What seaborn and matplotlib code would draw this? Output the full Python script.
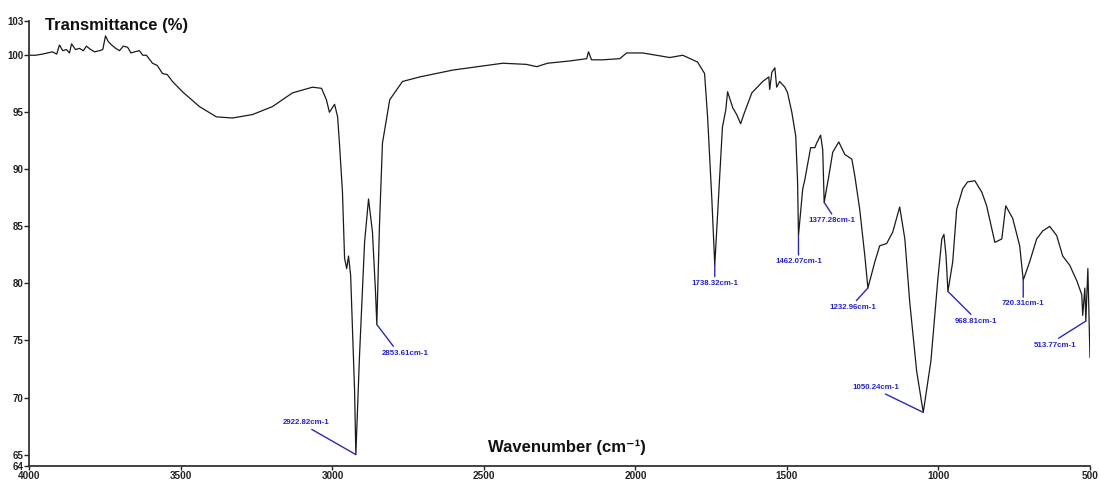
import matplotlib
matplotlib.use("Agg")
import matplotlib.pyplot as plt
import seaborn as sns
import pandas as pd

# ---- spectrum ----
wavenumber = [4000, 3980, 3957, 3940, 3924, 3910, 3901, 3890, 3878, 3868, 3861, 3848, 3835, 3822,
              3812, 3798, 3785, 3769, 3758, 3749, 3740, 3729, 3715, 3703, 3690, 3676, 3665,
              3653, 3637, 3626, 3614, 3594, 3578, 3561, 3545, 3528, 3495, 3439, 3383, 3330,
              3264, 3198, 3132, 3066, 3036, 3020, 3010, 2993, 2983, 2977, 2967, 2960, 2953,
              2947, 2940, 2927, 2922.82, 2911, 2894, 2881, 2868, 2858, 2853.61, 2845, 2835,
              2811, 2769, 2712, 2603, 2438, 2360, 2326, 2290, 2217, 2161, 2155, 2145, 2108,
              2052, 2029, 1976, 1887, 1844, 1795, 1772, 1762, 1748, 1738.32, 1723, 1713,
              1702, 1696, 1679, 1666, 1653, 1640, 1616, 1580, 1560, 1557, 1550, 1540, 1534,
              1524, 1507, 1498, 1484, 1471, 1465, 1462.07, 1448, 1441, 1431, 1422, 1408,
              1402, 1389, 1382, 1377.28, 1362, 1349, 1329, 1309, 1286, 1276, 1260, 1243,
              1232.96, 1210, 1194, 1171, 1151, 1128, 1111, 1095, 1072, 1050.24, 1025, 1002,
              989, 982, 975, 968.81, 953, 940, 920, 904, 880, 857, 841, 814, 791, 778, 755,
              732, 720.31, 699, 676, 656, 633, 610, 590, 567, 543, 527, 524, 517, 513.77,
              507, 500]
transmittance = [100.0, 100.0, 100.1, 100.2, 100.3, 100.1, 100.9, 100.4, 100.5, 100.2, 101.0, 100.5, 100.6, 100.4,
                 100.8, 100.5, 100.3, 100.4, 100.5, 101.7, 101.2, 100.9, 100.6, 100.4, 100.8, 100.7, 100.2,
                 100.3, 100.4, 100.0, 100.0, 99.3, 99.1, 98.4, 98.3, 97.7, 96.8, 95.5, 94.6, 94.5,
                 94.8, 95.5, 96.7, 97.2, 97.1, 96.1, 95.0, 95.7, 94.6, 92.3, 88.0, 82.2, 81.3,
                 82.4, 80.7, 70.6, 65.0, 73.5, 83.6, 87.4, 84.5, 79.3, 76.4, 85.0, 92.3,
                 96.1, 97.7, 98.1, 98.7, 99.3, 99.2, 99.0, 99.3, 99.5, 99.7, 100.3, 99.6, 99.6,
                 99.7, 100.2, 100.2, 99.8, 100.0, 99.4, 98.4, 94.6, 87.4, 81.6, 88.9, 93.7,
                 95.2, 96.8, 95.4, 94.8, 94.0, 95.0, 96.7, 97.7, 98.1, 97.0, 98.5, 98.9, 97.2,
                 97.7, 97.2, 96.7, 95.0, 92.9, 88.9, 84.2, 88.3, 89.1, 90.6, 91.9, 91.9,
                 92.3, 93.0, 91.7, 87.1, 89.4, 91.5, 92.4, 91.3, 90.9, 89.4, 86.5, 82.4,
                 79.6, 81.9, 83.3, 83.5, 84.5, 86.7, 83.9, 78.4, 72.3, 68.7, 73.2, 80.4,
                 83.9, 84.3, 82.4, 79.3, 81.9, 86.5, 88.3, 88.9, 89.0, 88.0, 86.8, 83.6, 83.9, 86.8, 85.7,
                 83.3, 80.3, 81.9, 83.9, 84.6, 85.0, 84.2, 82.4, 81.6, 80.2, 79.0, 77.2, 79.6, 76.7,
                 81.3, 73.5]

# ---- peak annotations ----
peak_labels = ["2922.82cm-1", "2853.61cm-1", "1738.32cm-1", "1462.07cm-1", "1377.28cm-1",
               "1232.96cm-1", "1050.24cm-1", "968.81cm-1", "720.31cm-1", "513.77cm-1"]
peak_wn = [2922.82, 2853.61, 1738.32, 1462.07, 1377.28, 1232.96, 1050.24, 968.81, 720.31, 513.77]
peak_T = [65.0, 76.4, 81.6, 84.2, 87.1, 79.6, 68.7, 79.3, 80.3, 76.7]

# layout: label text centre (data coords) and leader anchor on the text box
label_xy = [(3087, 67.8), (2760, 73.9), (1738.32, 80.0), (1462.07, 81.9), (1353, 85.5),
            (1281, 77.9), (1205, 70.9), (875, 76.7), (720.31, 78.2), (614, 74.6)]
label_rel = [(0.5, 0.0), (0.3, 1.0), (0.5, 1.0), (0.5, 1.0), (0.55, 1.0),
             (0.5, 1.0), (0.55, 0.0), (0.45, 1.0), (0.5, 1.0), (0.45, 1.0)]

y_ticks = [64, 65, 70, 75, 80, 85, 90, 95, 100, 103]
x_ticks = [4000, 3500, 3000, 2500, 2000, 1500, 1000, 500]

sns.set_style("ticks")
plt.rcParams['font.family'] = ['Liberation Sans', 'DejaVu Sans']

fig = plt.figure(figsize=(10.99, 4.82), dpi=100)
ax = fig.add_axes([0.0268, 0.0332, 0.965, 0.9232])

df = pd.DataFrame({"wavenumber": wavenumber, "T": transmittance})
sns.lineplot(data=df, x="wavenumber", y="T", sort=False, color="#1a1a1a", linewidth=0.9, ax=ax)

ax.set_xlim(4000, 500)
ax.set_ylim(64, 103)
ax.set_xticks(x_ticks)
ax.set_yticks(y_ticks)
ax.set_xticklabels([str(t) for t in x_ticks], fontsize=7.2, fontweight="bold")
ax.set_yticklabels([str(t) for t in y_ticks], fontsize=7, fontweight="bold")
ax.tick_params(axis="x", length=3, width=1, pad=0.8, colors="#222222")
ax.tick_params(axis="y", length=3.5, width=1, pad=1, colors="#222222")
ax.set_xlabel("")
ax.set_ylabel("")
sns.despine(ax=ax)
for s in ("left", "bottom"):
    ax.spines[s].set_linewidth(1.3)
    ax.spines[s].set_color("#333333")

ax.text(0.0146, 0.991, "Transmittance (%)", transform=ax.transAxes, ha="left", va="center",
        fontsize=12, fontweight="bold", color="#111111")
ax.text(0.507, 0.043, "Wavenumber (cm\u207b\u00b9)", transform=ax.transAxes, ha="center", va="center",
        fontsize=12, fontweight="bold", color="#111111")

for lab, px, py, (tx, ty), rel in zip(peak_labels, peak_wn, peak_T, label_xy, label_rel):
    ax.annotate(lab, xy=(px, py), xytext=(tx, ty), ha="center", va="center",
                fontsize=5.7, fontweight="bold", color="#2323c8",
                arrowprops=dict(arrowstyle="-", color="#2a2ab0", lw=1.0,
                                shrinkA=0, shrinkB=0, relpos=rel))

fig.savefig("out.png", dpi=100)
